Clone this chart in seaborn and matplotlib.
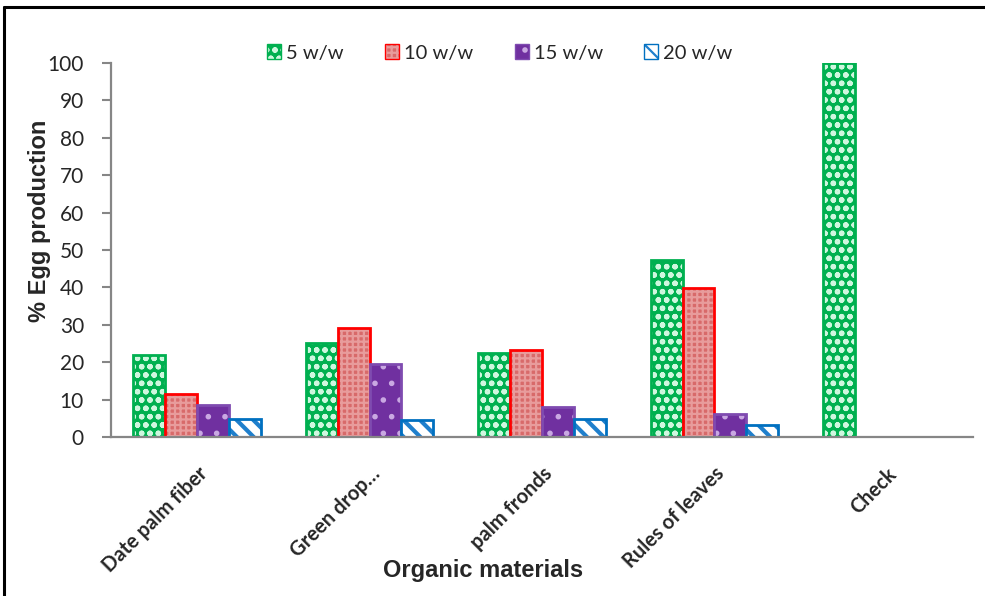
import matplotlib
matplotlib.use("Agg")
import matplotlib.pyplot as plt
import seaborn as sns
import pandas as pd
from matplotlib.patches import Patch
from matplotlib.lines import Line2D
from matplotlib.colors import to_rgba

categories = ["Date palm fiber", "Green drop…", "palm fronds", "Rules of leaves", "Check"]
series = ["5 w/w", "10 w/w", "15 w/w", "20 w/w"]
v5 = [22, 25.1, 22.4, 47.2, 100]
v10 = [11.6, 29.3, 23.3, 39.8, 0]
v15 = [8.7, 19.6, 8.1, 6.1, 0]
v20 = [5.0, 4.5, 4.9, 3.3, 0]
yticks = list(range(0, 101, 10))

values = [v5, v10, v15, v20]
rows = []
for s, vals in zip(series, values):
    for c, v in zip(categories, vals):
        rows.append({"cat": c, "series": s, "val": v})
df = pd.DataFrame(rows)

sns.set_style("white")
plt.rcParams["hatch.linewidth"] = 1.6

styles = {
    "5 w/w": dict(face="#00B050", edge="#00B050", hatch="oo", hcolor="#CFF7DF"),
    "10 w/w": dict(face="#D86A6A", edge="#FF0000", hatch="+++", hcolor="#E89C9C"),
    "15 w/w": dict(face="#7030A0", edge="#7F4BB0", hatch=".", hcolor="#C9A8E2"),
    "20 w/w": dict(face="#FFFFFF", edge="#0070C0", hatch="\\\\", hcolor="#1F7FCC"),
}

fig = plt.figure(figsize=(9.85, 5.96), dpi=100)
ax = fig.add_axes([111/985, 1-437.3/596, 862/985, (437.3-62.7)/596])

sns.barplot(data=df, x="cat", y="val", hue="series", order=categories,
            hue_order=series, width=0.74, gap=0, legend=False, ax=ax,
            saturation=1)

for cont, s in zip(ax.containers, series):
    st = styles[s]
    for p in cont.patches:
        p.set_facecolor(st["face"])
        p.set_edgecolor(st["edge"])
        p.set_linewidth(2)
        p.set_hatch(st["hatch"])
        p._hatch_color = to_rgba(st["hcolor"])
        if s == "20 w/w":
            try:
                p.set_hatch_linewidth(3.0)
            except Exception:
                pass

ax.set_ylim(0, 100)
ax.set_yticks(yticks)
ax.set_yticklabels([str(t) for t in yticks], fontfamily="Lato", fontsize=15)
ax.set_xlim(-0.5, len(categories) - 0.5)
ax.set_xticks(range(len(categories)))
ax.set_xticklabels(categories, rotation=45, ha="right", va="top",
                   rotation_mode="anchor", fontfamily="Lato",
                   fontweight="bold", fontsize=14.5)
ax.tick_params(axis="x", length=0, pad=19)
ax.tick_params(axis="y", length=6.5, width=1.5, color="#868686", pad=13, left=True)

for sp in ["top", "right"]:
    ax.spines[sp].set_visible(False)
for sp in ["left", "bottom"]:
    ax.spines[sp].set_color("#868686")
    ax.spines[sp].set_linewidth(1.6)

ax.set_xlabel("Organic materials", fontfamily="Liberation Sans",
              fontweight="bold", fontsize=17)
ax.xaxis.set_label_coords((483-111)/862, (437.3-571)/374.6)
ax.xaxis.label.set_va("center")
ax.set_ylabel("% Egg production", fontfamily="Liberation Sans",
              fontweight="bold", fontsize=17)
ax.yaxis.set_label_coords((40-111)/862, (437.3-221)/374.6)
ax.yaxis.label.set_va("center")

handles = []
for s in series:
    st = styles[s]
    h = Patch(facecolor=st["face"], edgecolor=st["edge"], hatch=st["hatch"],
              linewidth=1, label=s)
    h._hatch_color = to_rgba(st["hcolor"])
    handles.append(h)
fig.legend(handles=handles, loc="center", bbox_to_anchor=(500/985, 1-53/596),
           ncol=4, frameon=False, handlelength=0.7, handleheight=0.7,
           handletextpad=0.25, columnspacing=2.05,
           prop={"family": "Lato", "size": 14.5})

fig.add_artist(Line2D([4/985, 1], [1-7/596, 1-7/596], color="black", lw=2.2,
                      transform=fig.transFigure))
fig.add_artist(Line2D([4/985, 4/985], [0, 1-7/596], color="black", lw=2.2,
                      transform=fig.transFigure))

fig.savefig("out.png", dpi=100)
